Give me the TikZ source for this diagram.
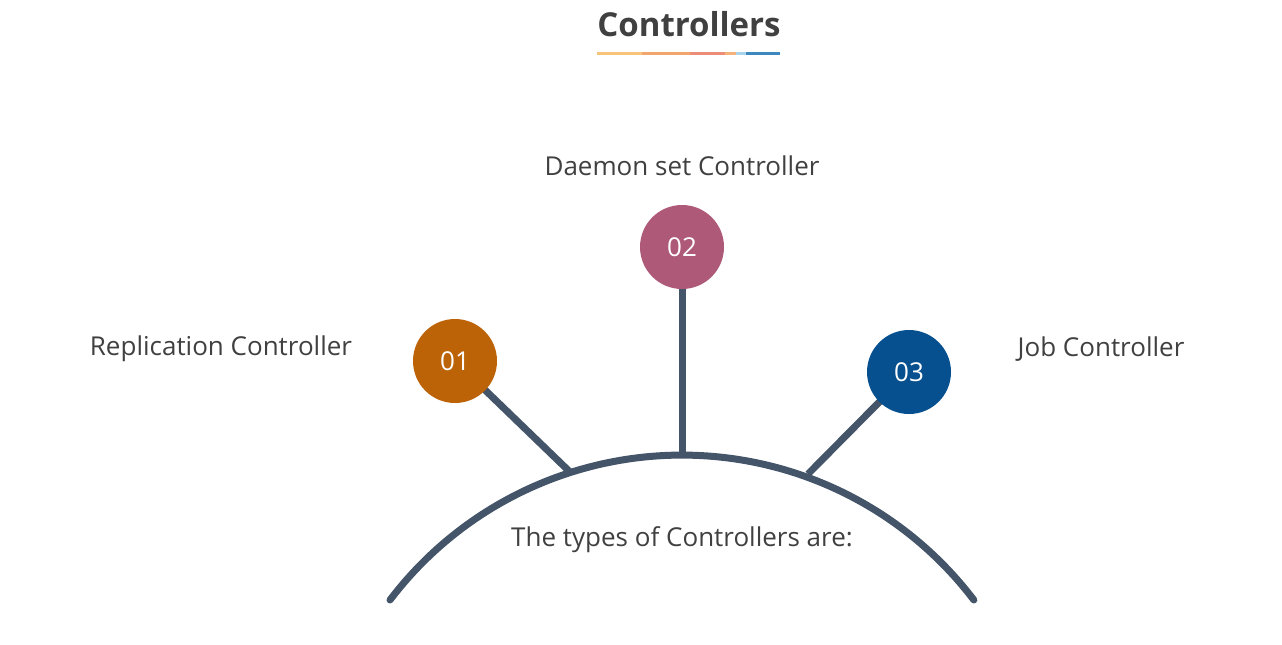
\documentclass[tikz,border=0pt]{standalone}
\usepackage{fontspec}
\setmainfont{Open Sans}
\definecolor{txt}{HTML}{404040}
\definecolor{arcc}{HTML}{445469}
\definecolor{c1}{HTML}{BC6207}
\definecolor{c2}{HTML}{AD5977}
\definecolor{c3}{HTML}{06508F}
\definecolor{u1}{HTML}{F8C47C}
\definecolor{u2}{HTML}{F2A56C}
\definecolor{u3}{HTML}{EC8D78}
\definecolor{u4}{HTML}{F5B27A}
\definecolor{u5}{HTML}{A8D3EA}
\definecolor{u6}{HTML}{3C88BF}
\begin{document}
\begin{tikzpicture}[x=1pt,y=-1pt,
  lbl/.style={text=txt,font=\fontsize{26}{30}\selectfont,inner sep=0pt},
  num/.style={circle,minimum size=84pt,inner sep=0pt,text=white,font=\fontsize{26}{30}\selectfont},
  spoke/.style={draw=arcc,line width=7pt}]
\useasboundingbox (0,0) rectangle (1282,645);
% title
\node[text=txt,font=\fontsize{33}{38}\selectfont\bfseries,inner sep=0pt] (title) at (689,24) {Controllers};
\foreach \a/\b/\c in {597/642/u1,642/690/u2,690/725/u3,725/736/u4,736/746/u5,746/780/u6}
  \draw[\c,line width=3pt] (\a,53) -- (\b,53);
% arc
\coordinate (arcL) at (390,600);
\draw[arcc,line width=7pt,line cap=round] (arcL) arc[start angle=-142.8,end angle=-37.2,radius=366.5];
\coordinate (p1) at (570,472);
\coordinate (p2) at (682,457);
\coordinate (p3) at (808,474);
% spokes
\draw[spoke] (682,247) -- (p2);
\draw[spoke] (455,361) -- (p1);
\draw[spoke] (909,372) -- (p3);
% circles
\node[num,fill=c1] (n1) at (455,361) {01};
\node[num,fill=c2] (n2) at (682,247) {02};
\node[num,fill=c3] (n3) at (909,372) {03};
% labels
\node[lbl] (l1) at (221,349) {Replication Controller};
\node[lbl] (l2) at (682,166) {Daemon set Controller};
\node[lbl] (l3) at (1101,349) {Job Controller};
\node[lbl] (center) at (682,540) {The types of Controllers are:};
\end{tikzpicture}
\end{document}
